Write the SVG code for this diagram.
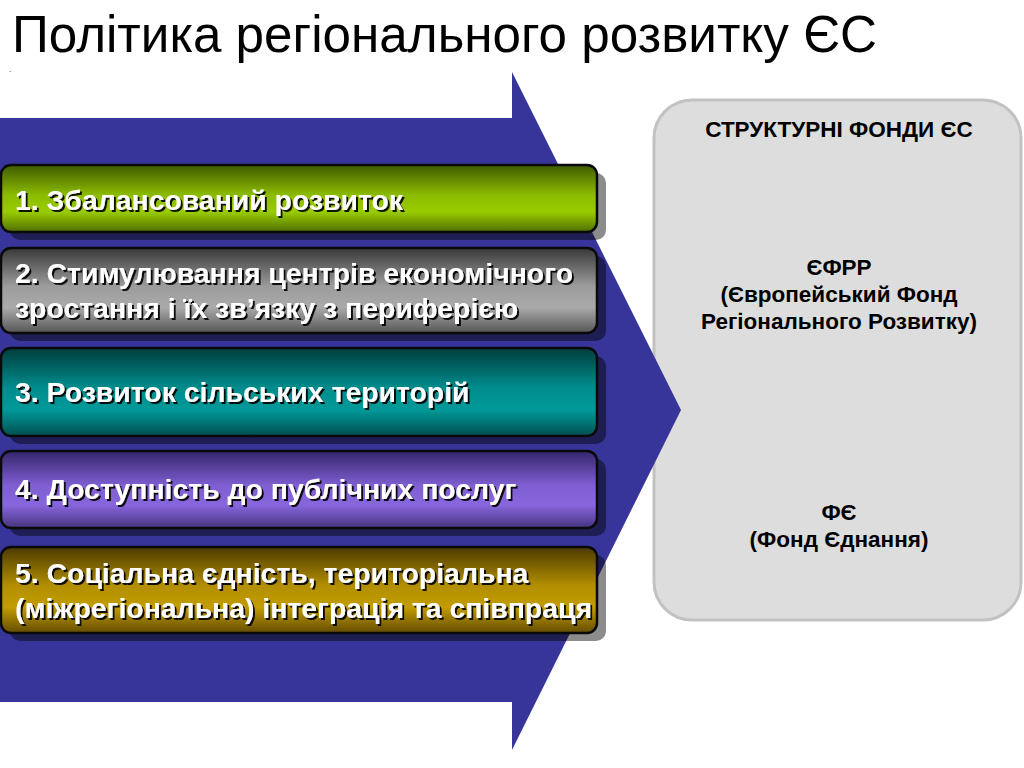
<svg xmlns="http://www.w3.org/2000/svg" width="1024" height="768" viewBox="0 0 1024 768">
  <defs>
    <linearGradient id="gGreen" x1="0" y1="0" x2="0" y2="1">
      <stop offset="0" stop-color="#3f5a00"/>
      <stop offset="0.45" stop-color="#8cbc00"/>
      <stop offset="0.7" stop-color="#99cc00"/>
      <stop offset="1" stop-color="#4f6e00"/>
    </linearGradient>
    <linearGradient id="gGray" x1="0" y1="0" x2="0" y2="1">
      <stop offset="0" stop-color="#383838"/>
      <stop offset="0.45" stop-color="#9c9c9c"/>
      <stop offset="0.7" stop-color="#aaaaaa"/>
      <stop offset="1" stop-color="#555555"/>
    </linearGradient>
    <linearGradient id="gTeal" x1="0" y1="0" x2="0" y2="1">
      <stop offset="0" stop-color="#003d3d"/>
      <stop offset="0.45" stop-color="#008c8c"/>
      <stop offset="0.7" stop-color="#009999"/>
      <stop offset="1" stop-color="#004f4f"/>
    </linearGradient>
    <linearGradient id="gPurple" x1="0" y1="0" x2="0" y2="1">
      <stop offset="0" stop-color="#33256b"/>
      <stop offset="0.45" stop-color="#7f5fd2"/>
      <stop offset="0.7" stop-color="#8866dd"/>
      <stop offset="1" stop-color="#45347f"/>
    </linearGradient>
    <linearGradient id="gGold" x1="0" y1="0" x2="0" y2="1">
      <stop offset="0" stop-color="#4a3900"/>
      <stop offset="0.45" stop-color="#b38f00"/>
      <stop offset="0.7" stop-color="#c29c00"/>
      <stop offset="1" stop-color="#634c00"/>
    </linearGradient>
    <filter id="tshadow" x="-5%" y="-20%" width="110%" height="150%">
      <feDropShadow dx="2" dy="2" stdDeviation="0.6" flood-color="#000000" flood-opacity="0.9"/>
    </filter>
  </defs>
  <style>
    .title { font-family: "Liberation Sans", Arial, sans-serif; font-size: 51.2px; fill: #000000; }
    .box { stroke: #0a0a0a; stroke-width: 2.5; }
    .shadow { fill: #000000; fill-opacity: 0.45; }
    .btxt { font-family: "Liberation Sans", Arial, sans-serif; font-size: 28.4px; font-weight: bold; fill: #ffffff; filter: url(#tshadow); }
    .ptxt { font-family: "Liberation Sans", Arial, sans-serif; font-size: 22.5px; font-weight: bold; fill: #000000; text-anchor: middle; }
  </style>
  <rect x="0" y="0" width="1024" height="768" fill="#ffffff"/>

  <text class="title" x="12" y="52">Політика регіонального розвитку ЄС</text>
  <text x="9" y="72" font-family="Liberation Sans, sans-serif" font-size="8" fill="#000000">.</text>

  <g id="funds">
    <rect x="654" y="100" width="367" height="520" rx="38" fill="#dddddd" stroke="#c2c2c2" stroke-width="3"/>
    <text class="ptxt" x="839" y="137">СТРУКТУРНІ ФОНДИ ЄС</text>
    <text class="ptxt" x="839" y="275">ЄФРР</text>
    <text class="ptxt" x="839" y="302">(Європейський Фонд</text>
    <text class="ptxt" x="839" y="329">Регіонального Розвитку)</text>
    <text class="ptxt" x="839" y="520">ФЄ</text>
    <text class="ptxt" x="839" y="547">(Фонд Єднання)</text>
  </g>

  <g id="arrow">
    <polygon points="0,118 512,118 512,72 681,410 512,750 512,702 0,702" fill="#37359a"/>
  </g>

  <g id="box1">
    <rect class="shadow" x="10" y="173" width="596" height="67" rx="10"/>
    <rect class="box" x="1" y="165" width="596" height="67" rx="10" fill="url(#gGreen)"/>
    <text class="btxt" x="15" y="210">1. Збалансований розвиток</text>
  </g>
  <g id="box2">
    <rect class="shadow" x="10" y="256" width="596" height="85" rx="10"/>
    <rect class="box" x="1" y="248" width="596" height="85" rx="10" fill="url(#gGray)"/>
    <text class="btxt" x="15" y="283">2. Стимулювання центрів економічного</text>
    <text class="btxt" x="15" y="318">зростання і їх зв’язку з периферією</text>
  </g>
  <g id="box3">
    <rect class="shadow" x="10" y="356" width="596" height="88" rx="10"/>
    <rect class="box" x="1" y="348" width="596" height="88" rx="10" fill="url(#gTeal)"/>
    <text class="btxt" x="15" y="402">3. Розвиток сільських територій</text>
  </g>
  <g id="box4">
    <rect class="shadow" x="10" y="459" width="596" height="77" rx="10"/>
    <rect class="box" x="1" y="451" width="596" height="77" rx="10" fill="url(#gPurple)"/>
    <text class="btxt" x="15" y="499">4. Доступність до публічних послуг</text>
  </g>
  <g id="box5">
    <rect class="shadow" x="10" y="555" width="596" height="86" rx="10"/>
    <rect class="box" x="1" y="547" width="596" height="86" rx="10" fill="url(#gGold)"/>
    <text class="btxt" x="15" y="583">5. Соціальна єдність, територіальна</text>
    <text class="btxt" x="15" y="618">(міжрегіональна) інтеграція та співпраця</text>
  </g>

  <g id="connectors"></g>
</svg>
